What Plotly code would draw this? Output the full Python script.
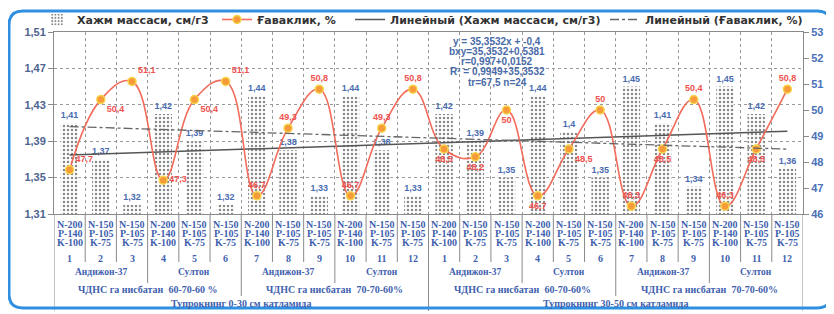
import numpy as np
import plotly.graph_objects as go

# ---------------- data ----------------
x_pos = list(range(1, 25))
density = [1.41, 1.37, 1.32, 1.42, 1.39, 1.32, 1.44, 1.38, 1.33, 1.44, 1.38, 1.33,
           1.42, 1.39, 1.35, 1.44, 1.40, 1.35, 1.45, 1.41, 1.34, 1.45, 1.42, 1.36]
porosity = [47.7, 50.4, 51.1, 47.3, 50.4, 51.1, 46.7, 49.3, 50.8, 46.7, 49.3, 50.8,
            48.5, 48.2, 50.0, 46.7, 48.5, 50.0, 46.3, 48.5, 50.4, 46.3, 48.5, 50.8]
n_labels = ["N-200", "N-150", "N-150", "N-200", "N-150", "N-150", "N-200", "N-150", "N-150", "N-200", "N-150", "N-150",
            "N-200", "N-150", "N-150", "N-200", "N-150", "N-150", "N-200", "N-150", "N-150", "N-200", "N-150", "N-150"]
p_labels = ["P-140", "P-105", "P-105", "P-140", "P-105", "P-105", "P-140", "P-105", "P-105", "P-140", "P-105", "P-105",
            "P-140", "P-105", "P-105", "P-140", "P-105", "P-105", "P-140", "P-105", "P-105", "P-140", "P-105", "P-105"]
k_labels = ["K-100", "K-75", "K-75", "K-100", "K-75", "K-75", "K-100", "K-75", "K-75", "K-100", "K-75", "K-75",
            "K-100", "K-75", "K-75", "K-100", "K-75", "K-75", "K-100", "K-75", "K-75", "K-100", "K-75", "K-75"]
plot_numbers = ["1", "2", "3", "4", "5", "6", "7", "8", "9", "10", "11", "12",
                "1", "2", "3", "4", "5", "6", "7", "8", "9", "10", "11", "12"]
varieties = ["Андижон-37", "Султон", "Андижон-37", "Султон",
             "Андижон-37", "Султон", "Андижон-37", "Султон"]
ratios = ["ЧДНС га нисбатан\u00a0 60-70-60 %", "ЧДНС га нисбатан\u00a0 70-70-60%",
          "ЧДНС га нисбатан\u00a0 60-70-60%", "ЧДНС га нисбатан\u00a0 70-70-60%"]
layers = ["Тупрокнинг 0-30 см катламида", "Тупрокнинг 30-50 см катламида"]
equation_lines = ["y = 35,3532x + -0,4", "bxy=35,3532+0,5381", "r=0,997+0,0152",
                  "R² = 0,9949+35,3532", "tr=67,5 n=24"]
series_names = ["Хажм массаси, см/г3", "Ғаваклик, %",
                "Линейный (Хажм массаси, см/г3)", "Линейный (Ғаваклик, %)"]
left_ticks = [1.31, 1.35, 1.39, 1.43, 1.47, 1.51]
right_ticks = [46, 47, 48, 49, 50, 51, 52, 53]
porosity_text_pos = ["top right", "bottom right", "top right", "middle right", "bottom right", "top right",
                     "top center", "top center", "top center", "top center", "top center", "top center",
                     "bottom center", "bottom center", "bottom center", "bottom center", "bottom right", "top center",
                     "top center", "bottom center", "top center", "top center", "bottom center", "top center"]

# ---------------- layout geometry ----------------
# the page body has an 8px margin, so the figure is drawn 8px smaller and offset
OFF = 8
W, H = 834 - OFF, 314 - OFF
PL, PR, PT, PB = 54, 803, 32, 214          # plot area in window pixels
ML, MR, MT, MB = PL - OFF, W - (PR - OFF), PT - OFF, H - (PB - OFF)
PW, PH = PR - PL, PB - PT


def X(p):
    return (p - PL) / PW


def Y(p):
    return (PB - p) / PH


def fmt(v):
    return f"{v:g}".replace(".", ",")


xs = np.array(x_pos, dtype=float)
d_fit = np.polyfit(xs, density, 1)
p_fit = np.polyfit(xs, porosity, 1)
trend_x = [x_pos[0], x_pos[-1]]

BLUE = "#3f5fae"
SANS = "Liberation Sans, Arial, sans-serif"
SERIF = "Liberation Serif, Times New Roman, serif"

fig = go.Figure()
fig.add_trace(go.Bar(
    x=x_pos, y=density, name=series_names[0], width=0.56, legend="legend",
    marker=dict(color="white", line=dict(width=0),
                pattern=dict(shape=".", fgcolor="#111111", bgcolor="white", size=4, solidity=0.3)),
    text=[fmt(v) for v in density], textposition="outside", constraintext="none",
    textfont=dict(family=SANS, size=9, color="#4a6cb0", weight="bold"),
    cliponaxis=False,
))
fig.add_trace(go.Scatter(
    x=x_pos, y=porosity, name=series_names[1], yaxis="y2", mode="lines+markers+text", legend="legend2",
    line=dict(color="#f26b5b", width=1.6, shape="spline", smoothing=1.2),
    marker=dict(size=8, color="#f79a3a", line=dict(color="#f7d44a", width=1.5)),
    text=[fmt(v) for v in porosity], textposition=porosity_text_pos,
    textfont=dict(family=SANS, size=9, color="#f0524f", weight="bold"),
    cliponaxis=False,
))
fig.add_trace(go.Scatter(
    x=trend_x, y=list(np.polyval(d_fit, trend_x)), name=series_names[2], legend="legend3",
    mode="lines", line=dict(color="#555555", width=1.5),
))
fig.add_trace(go.Scatter(
    x=trend_x, y=list(np.polyval(p_fit, trend_x)), name=series_names[3], yaxis="y2", legend="legend4",
    mode="lines", line=dict(color="#666666", width=1.3, dash="dashdot"),
))

annotations = []
for i in range(24):
    for txt, yp in ((n_labels[i], 224), (p_labels[i], 233.5), (k_labels[i], 243), (plot_numbers[i], 258)):
        annotations.append(dict(x=x_pos[i], y=Y(yp), xref="x", yref="paper", text=txt, showarrow=False,
                                xanchor="center", yanchor="middle",
                                font=dict(family=SERIF, size=10, color=BLUE, weight="bold")))
for g, txt in enumerate(varieties):
    annotations.append(dict(x=3 * g + 2, y=Y(272), xref="x", yref="paper", text=txt, showarrow=False,
                            xanchor="center", yanchor="middle",
                            font=dict(family=SERIF, size=9.5, color=BLUE, weight="bold")))
for g, txt in enumerate(ratios):
    annotations.append(dict(x=6 * g + 3.5, y=Y(289), xref="x", yref="paper", text=txt, showarrow=False,
                            xanchor="center", yanchor="middle",
                            font=dict(family=SERIF, size=10, color=BLUE, weight="bold")))
for g, txt in enumerate(layers):
    annotations.append(dict(x=12 * g + 6.5, y=Y(303), xref="x", yref="paper", text=txt, showarrow=False,
                            xanchor="center", yanchor="middle",
                            font=dict(family=SERIF, size=10, color=BLUE, weight="bold")))
for j, txt in enumerate(equation_lines):
    annotations.append(dict(x=X(497), y=Y(41 + 10.3 * j), xref="paper", yref="paper", text=txt,
                            showarrow=False, xanchor="center", yanchor="middle",
                            font=dict(family=SANS, size=10, color="#4a6aa8", weight="bold")))

shapes = []
for i in range(1, 24):
    if i == 12:
        yb = 311
    elif i % 6 == 0:
        yb = 296
    elif i % 3 == 0:
        yb = 283
    else:
        yb = 262
    shapes.append(dict(type="line", xref="x", yref="paper", x0=i + 0.5, x1=i + 0.5, y0=0, y1=Y(yb),
                       line=dict(color="#8a8a8a", width=1)))
for xe in (0.5, 24.5):
    shapes.append(dict(type="line", xref="x", yref="paper", x0=xe, x1=xe, y0=0, y1=Y(311),
                       line=dict(color="#8a8a8a", width=1)))

# rounded blue frame
fl, fr, ft, fb, rr = 9, 831, 11, 308, 14
path = (f"M {X(fl + rr)},{Y(ft)} L {X(fr - rr)},{Y(ft)} Q {X(fr)},{Y(ft)} {X(fr)},{Y(ft + rr)} "
        f"L {X(fr)},{Y(fb - rr)} Q {X(fr)},{Y(fb)} {X(fr - rr)},{Y(fb)} "
        f"L {X(fl + rr)},{Y(fb)} Q {X(fl)},{Y(fb)} {X(fl)},{Y(fb - rr)} "
        f"L {X(fl)},{Y(ft + rr)} Q {X(fl)},{Y(ft)} {X(fl + rr)},{Y(ft)} Z")
shapes.append(dict(type="path", xref="paper", yref="paper", path=path,
                   line=dict(color="#2f8fe0", width=3)))

legend_font = dict(family="DejaVu Sans, Verdana, sans-serif", size=11, color="#333333", weight="bold")
legend_text_starts = [77, 257, 390, 645]
legends = {}
for k, xs_ in enumerate(legend_text_starts):
    key = "legend" if k == 0 else f"legend{k + 1}"
    legends[key] = dict(orientation="h", x=X(xs_ - 40), y=Y(5), xanchor="left", yanchor="top",
                        bgcolor="rgba(0,0,0,0)", font=legend_font, itemwidth=30)

fig.update_layout(
    width=W, height=H,
    margin=dict(l=ML, r=MR, t=MT, b=MB, autoexpand=False),
    paper_bgcolor="white", plot_bgcolor="white",
    font=dict(family=SANS, size=11, color="#333333"),
    separators=", ",
    showlegend=True,
    xaxis=dict(range=[0.5, 24.5], tickmode="linear", tick0=0.5, dtick=1, showticklabels=False, ticks="",
               showgrid=True, gridcolor="#9a9a9a", griddash="dot", gridwidth=1,
               showline=True, linecolor="#8a8a8a", mirror=True, zeroline=False),
    yaxis=dict(range=[1.31, 1.51], tickmode="array", tickvals=left_ticks,
               ticktext=[fmt(v) for v in left_ticks],
               showgrid=True, gridcolor="#9a9a9a", griddash="dot", gridwidth=1,
               showline=True, linecolor="#8a8a8a", ticks="outside", ticklen=5, tickcolor="#8a8a8a",
               tickfont=dict(family=SANS, size=11, color="#4d6390", weight="bold"), zeroline=False),
    yaxis2=dict(range=[46, 53], overlaying="y", side="right", tickmode="array", tickvals=right_ticks,
                ticktext=[str(v) for v in right_ticks], showgrid=False,
                showline=True, linecolor="#8a8a8a", ticks="outside", ticklen=5, tickcolor="#8a8a8a",
                tickfont=dict(family=SANS, size=11, color="#4a70b8", weight="bold"), zeroline=False),
    annotations=annotations,
    shapes=shapes,
    **legends,
)

fig.write_html("out.html")
